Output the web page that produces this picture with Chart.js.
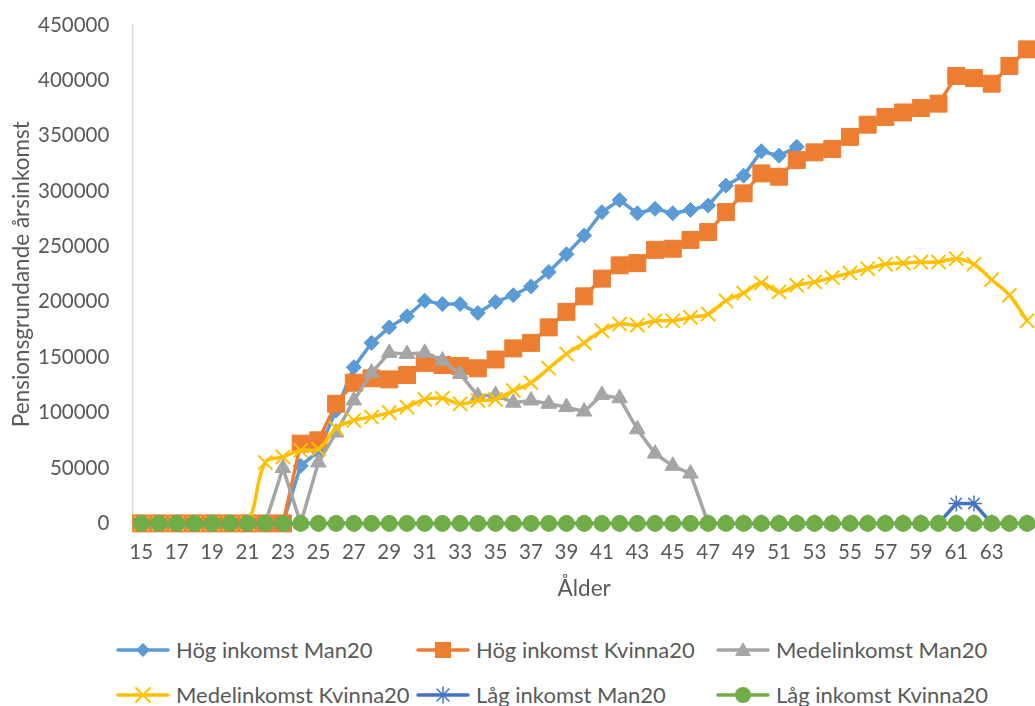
<!DOCTYPE html>
<html>
<head>
<meta charset="utf-8">
<script src="https://cdn.jsdelivr.net/npm/chart.js@4/dist/chart.umd.min.js"></script>
<style>
    body { margin: 0; width: 1035px; height: 706px; overflow: hidden; background: #fff; font-family: Lato, sans-serif; }
    #wrap { position: absolute; left: 0; top: 0; }
    .item { position: absolute; display: flex; align-items: center; height: 24px; line-height: 24px; font-size: 22px; color: #595959; white-space: nowrap; }
    .item canvas { margin-right: 6px; }
</style>
</head>
<body>
<div id="wrap"><canvas id="cv" width="1036" height="614"></canvas></div>
<div id="legend"></div>
<script>
//ålder 15-65
const ages = ["15","16","17","18","19","20","21","22","23","24","25","26","27","28","29","30","31","32","33","34","35","36","37","38","39","40","41","42","43","44","45","46","47","48","49","50","51","52","53","54","55","56","57","58","59","60","61","62","63","64","65"];

//serier (kr per år)
const hogMan = [0,0,0,0,0,0,0,0,0,52000,65000,102000,141000,163000,177000,187000,201000,198000,198000,190000,200000,206000,214000,227000,243000,260000,281000,292000,280000,284000,280000,283000,287000,305000,314000,336000,332000,340000,null,null,null,null,null,null,null,null,null,null,null,null,null];
const hogKvinna = [0,0,0,0,0,0,0,0,0,72000,75000,108000,127000,131000,130000,134000,145000,143000,142000,140000,148000,158000,163000,177000,191000,205000,221000,233000,235000,247000,248000,256000,263000,281000,298000,316000,313000,328000,335000,338000,349000,360000,367000,371000,375000,379000,404000,402000,397000,413000,428000];
const medelMan = [0,0,0,0,0,0,0,0,50000,0,55000,82000,111000,136000,154000,153000,154000,147000,135000,115000,116000,109000,111000,108000,105000,101000,116000,113000,85000,63000,52000,45000,0,0,0,0,0,0,0,0,0,0,0,0,0,0,0,0,0,0,0];
const medelKvinna = [0,0,0,0,0,0,0,55000,60000,66000,67000,86000,93000,96000,100000,105000,112000,113000,108000,111000,112000,120000,127000,140000,153000,163000,174000,180000,179000,183000,183000,186000,189000,201000,208000,217000,209000,215000,218000,222000,226000,230000,234000,235000,236000,236000,239000,234000,220000,206000,183000];
const lagMan = [0,0,0,0,0,0,0,0,0,0,0,0,0,0,0,0,0,0,0,0,0,0,0,0,0,0,0,0,0,0,0,0,0,0,0,0,0,0,0,0,0,0,0,0,0,0,18000,18000,0,0,0];
const lagKvinna = [0,0,0,0,0,0,0,0,0,0,0,0,0,0,0,0,0,0,0,0,0,0,0,0,0,0,0,0,0,0,0,0,0,0,0,0,0,0,0,0,0,0,0,0,0,0,0,0,0,0,0];

//y-axel
const yTicks = [0,50000,100000,150000,200000,250000,300000,350000,400000,450000];

const textColor = "#595959";

//serie-inställningar (namn, data, färg, markör)
const series = [
    { name: "Hög inkomst Man20", data: hogMan, color: "#5B9BD5", style: "rectRot", r: 7.5, bw: 1 },
    { name: "Hög inkomst Kvinna20", data: hogKvinna, color: "#ED7D31", style: "rect", r: 12, bw: 1 },
    { name: "Medelinkomst Man20", data: medelMan, color: "#A5A5A5", style: "triangle", r: 9, bw: 1 },
    { name: "Medelinkomst Kvinna20", data: medelKvinna, color: "#FFC000", style: "crossRot", r: 10, bw: 2, smooth: true },
    { name: "Låg inkomst Man20", data: lagMan, color: "#4472C4", style: "star", r: 8, bw: 1.5 },
    { name: "Låg inkomst Kvinna20", data: lagKvinna, color: "#70AD47", style: "circle", r: 8, bw: 1 }
];

//markör för legenden
function drawMarker(ctx, style, color, x, y){
    ctx.fillStyle = color;
    ctx.strokeStyle = color;
    ctx.beginPath();
    if(style == "rectRot"){
        ctx.moveTo(x, y-7); ctx.lineTo(x+7, y); ctx.lineTo(x, y+7); ctx.lineTo(x-7, y); ctx.closePath(); ctx.fill();
    } else if(style == "rect"){
        ctx.fillRect(x-8, y-8, 16, 16);
    } else if(style == "triangle"){
        ctx.moveTo(x, y-8); ctx.lineTo(x+8, y+6); ctx.lineTo(x-8, y+6); ctx.closePath(); ctx.fill();
    } else if(style == "crossRot"){
        ctx.lineWidth = 2;
        ctx.moveTo(x-7, y-7); ctx.lineTo(x+7, y+7); ctx.moveTo(x+7, y-7); ctx.lineTo(x-7, y+7); ctx.stroke();
    } else if(style == "star"){
        ctx.lineWidth = 1.5;
        ctx.moveTo(x-6, y-6); ctx.lineTo(x+6, y+6); ctx.moveTo(x+6, y-6); ctx.lineTo(x-6, y+6);
        ctx.moveTo(x, y-8); ctx.lineTo(x, y+8); ctx.stroke();
    } else {
        ctx.arc(x, y, 8, 0, Math.PI*2); ctx.fill();
    }
}

//legend bygga (3 kolumner, 2 rader)
let legend = document.getElementById("legend");
series.forEach((s, i) => {
    let item = document.createElement("div");
    item.className = "item";
    item.style.left = (116 + (i % 3) * 300) + "px";
    item.style.top = (Math.floor(i / 3) == 0 ? 638 : 683) + "px";
    let c = document.createElement("canvas");
    c.width = 54;
    c.height = 24;
    let lc = c.getContext("2d");
    lc.strokeStyle = s.color;
    lc.lineWidth = 3.5;
    lc.lineCap = "round";
    lc.beginPath();
    lc.moveTo(2, 12);
    lc.lineTo(52, 12);
    lc.stroke();
    drawMarker(lc, s.style, s.color, 27, 12);
    let t = document.createElement("span");
    t.innerText = s.name;
    item.appendChild(c);
    item.appendChild(t);
    legend.appendChild(item);
});

//ingen extra kant-padding från axlarna
function noEdgePadding(axis){
    axis.paddingTop = 0;
    axis.paddingBottom = 0;
    axis.paddingLeft = 0;
    axis.paddingRight = 0;
}

async function main(){
    await document.fonts.load("20px Lato");

    const tickFont = { family: "Lato", size: 20.5 };
    const titleFont = { family: "Lato", size: 22.5 };

    const config = {
        type: "line",
        data: {
            labels: ages,
            datasets: series.map((s, i) => ({
                label: s.name,
                data: s.data,
                borderColor: s.color,
                backgroundColor: s.color,
                borderWidth: 3.5,
                pointStyle: s.style,
                pointRadius: s.r,
                pointBorderWidth: s.bw,
                pointBackgroundColor: s.color,
                pointBorderColor: s.color,
                tension: s.smooth ? 0.4 : 0,
                spanGaps: false,
                clip: false,
                order: series.length - i
            }))
        },
        options: {
            responsive: false,
            devicePixelRatio: 1,
            animation: false,
            layout: { autoPadding: false, padding: { left: 6, top: 25, right: 0, bottom: 8 } },
            plugins: {
                legend: { display: false },
                tooltip: { enabled: false }
            },
            scales: {
                x: {
                    offset: true,
                    afterFit: noEdgePadding,
                    grid: { display: false, drawTicks: false },
                    border: { display: true, color: "#d9d9d9", width: 1 },
                    ticks: {
                        font: tickFont,
                        color: textColor,
                        autoSkip: false,
                        maxRotation: 0,
                        padding: 17,
                        callback: (v, i) => (i % 2 == 0 && i < ages.length - 1) ? ages[i] : ""
                    },
                    title: { display: true, text: "Ålder", font: titleFont, color: textColor, padding: { top: -7, bottom: 4 } }
                },
                y: {
                    min: yTicks[0],
                    max: yTicks[yTicks.length - 1],
                    afterBuildTicks: (axis) => { axis.ticks = yTicks.map(v => ({ value: v })); },
                    afterFit: noEdgePadding,
                    grid: { display: false, drawTicks: false },
                    border: { display: true, color: "#d9d9d9", width: 1.5 },
                    ticks: { font: tickFont, color: textColor, padding: 23, callback: (v) => String(v) },
                    title: { display: true, text: "Pensionsgrundande årsinkomst", font: titleFont, color: textColor, padding: { top: 2.5, bottom: -20.5 } }
                }
            }
        }
    };
    new Chart(document.getElementById("cv").getContext("2d"), config);
}
main();
</script>
</body>
</html>
